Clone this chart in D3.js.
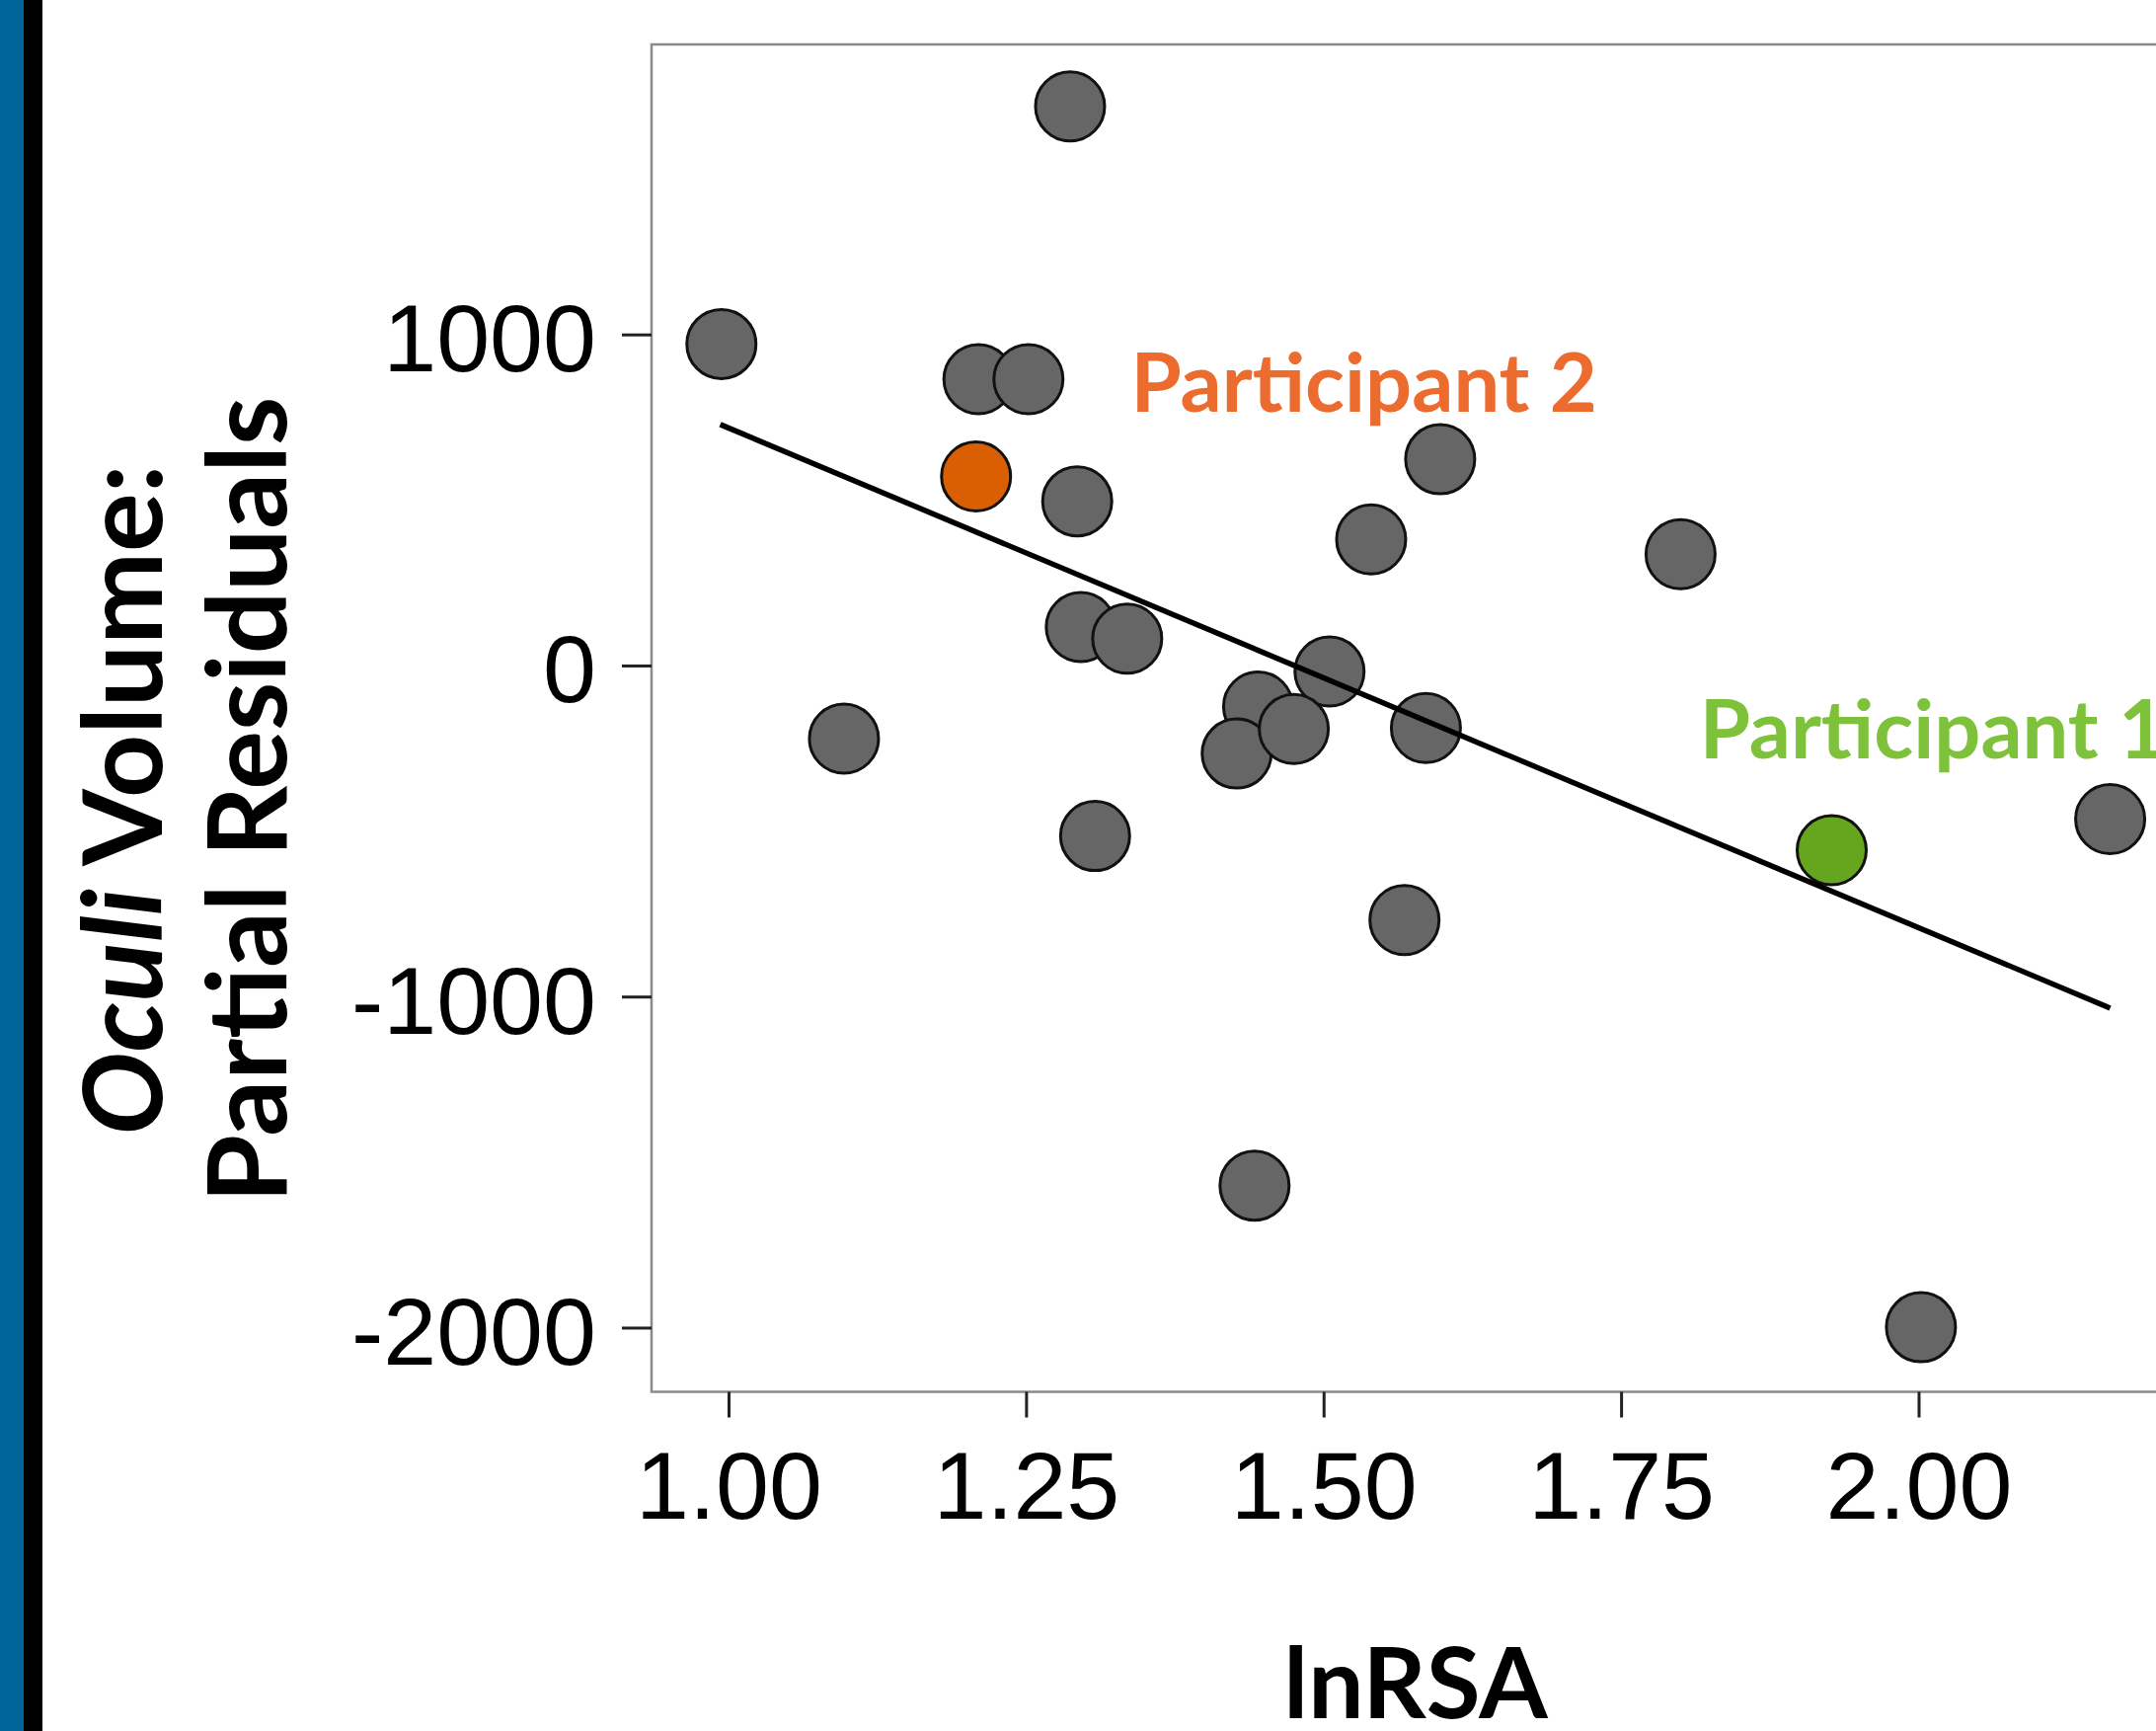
<!DOCTYPE html>
<html>
<head>
<meta charset="utf-8">
<title>Oculi Volume vs lnRSA</title>
<script src="https://cdn.jsdelivr.net/npm/d3@7"></script>
<style>
  html, body { margin: 0; padding: 0; background: #fff; }
  svg { display: block; }
</style>
</head>
<body>
<div id="chart"></div>
<script>
/* ---- Data ---- */
const lnRSA = [
  0.994, 1.287, 1.210, 1.252, 1.208, 1.293, 1.598, 1.540, 1.800, 1.296, 1.335, 1.097,
  1.505, 1.445, 1.427, 1.475, 1.586, 1.308, 1.568, 1.927, 2.161, 1.442, 2.002
];
const residuals = [
  971, 1689, 865, 865, 571, 496, 623, 381, 336, 116, 81, -221,
  -18, -124, -266, -192, -189, -515, -769, -558, -464, -1571, -1999
];
// which participant each point belongs to ('' = unlabeled)
const participant = [
  '', '', '', '', 'p2', '', '', '', '', '', '', '',
  '', '', '', '', '', '', '', 'p1', '', '', ''
];
const fitX = [0.993, 2.161];
const fitY = [728, -1035];

const xTicks = [1.00, 1.25, 1.50, 1.75, 2.00];
const yTicks = [-2000, -1000, 0, 1000];

const labels = [
  { id: 'p2', text: 'Participant 2', x: 1.338, y: 767 },
  { id: 'p1', text: 'Participant 1', x: 1.816, y: -282 }
];

(function () {
  'use strict';

  const W = 2184, H = 1753;
  const box = { left: 660, top: 45, right: 2245, bottom: 1409.5 };

  const POINT_FILL = { '': '#666666', p2: '#d95f02', p1: '#66a61e' };
  const LABEL_FILL = { p2: '#ec6b2f', p1: '#7dc23a' };
  const TITLE_FONT = 'Lato, "Open Sans", sans-serif';
  const TICK_FONT  = '"Liberation Sans", Arial, sans-serif';

  const svg = d3.select('#chart')
    .append('svg')
    .attr('width', W)
    .attr('height', H);

  /* ---- Slide edge bars ---- */
  svg.append('rect').attr('x', 0).attr('y', 0).attr('width', 24).attr('height', H).attr('fill', '#006699');
  svg.append('rect').attr('x', 24).attr('y', 0).attr('width', 19).attr('height', H).attr('fill', '#000');

  /* ---- Scales ---- */
  const x = d3.scaleLinear().domain([0.9353, 2.25]).range([box.left, box.left + (2.25 - 0.9353) * 1205.5]);
  const y = d3.scaleLinear().domain([-2194, 1876]).range([box.bottom, box.top]);

  /* ---- Plot frame ---- */
  svg.append('rect')
    .attr('x', box.left)
    .attr('y', box.top)
    .attr('width', box.right - box.left)
    .attr('height', box.bottom - box.top)
    .attr('fill', 'none')
    .attr('stroke', '#8a8a8a')
    .attr('stroke-width', 2.5);

  /* ---- Axes ---- */
  const gx = svg.append('g')
    .attr('transform', `translate(0,${box.bottom})`)
    .call(d3.axisBottom(x).tickValues(xTicks).tickFormat(d3.format('.2f')).tickSize(26).tickPadding(34));

  // plain hyphen for negatives, as in the original figure
  const gy = svg.append('g')
    .attr('transform', `translate(${box.left},0)`)
    .call(d3.axisLeft(y).tickValues(yTicks).tickFormat(d => String(d)).tickSize(30).tickPadding(26));

  [gx, gy].forEach(g => {
    g.select('.domain').remove();
    g.selectAll('.tick line').attr('stroke', '#222').attr('stroke-width', 3);
    g.selectAll('.tick text')
      .attr('fill', '#000')
      .style('font-family', TICK_FONT)
      .style('font-size', '97px');
  });
  gy.selectAll('.tick text').attr('dy', '0.38em');

  /* ---- Points ---- */
  const pts = lnRSA.map((v, i) => ({ x: v, y: residuals[i], who: participant[i] }));

  svg.append('g')
    .selectAll('circle')
    .data(pts)
    .join('circle')
      .attr('cx', d => x(d.x))
      .attr('cy', d => y(d.y))
      .attr('r', 35)
      .attr('fill', d => POINT_FILL[d.who])
      .attr('stroke', '#111')
      .attr('stroke-width', 3);

  /* ---- Fit line ---- */
  svg.append('path')
    .datum(fitX.map((v, i) => [v, fitY[i]]))
    .attr('d', d3.line().x(d => x(d[0])).y(d => y(d[1])))
    .attr('fill', 'none')
    .attr('stroke', '#000')
    .attr('stroke-width', 5.5);

  /* ---- Participant labels ---- */
  svg.append('g')
    .selectAll('text')
    .data(labels)
    .join('text')
      .attr('x', d => x(d.x))
      .attr('y', d => y(d.y))
      .text(d => d.text)
      .attr('fill', d => LABEL_FILL[d.id])
      .style('font-family', TITLE_FONT)
      .style('font-weight', '700')
      .style('font-size', '83px');

  /* ---- Axis titles ---- */
  svg.append('text')
    .attr('x', 1434)
    .attr('y', 1740)
    .attr('text-anchor', 'middle')
    .text('lnRSA')
    .style('font-family', TITLE_FONT)
    .style('font-weight', '700')
    .style('font-size', '100px');

  const yTitle = svg.append('g')
    .attr('transform', 'translate(0,810) rotate(-90)')
    .style('font-family', TITLE_FONT)
    .style('font-weight', '700')
    .style('font-size', '112px');

  const line1 = yTitle.append('text').attr('x', 0).attr('y', 164).attr('text-anchor', 'middle');
  line1.append('tspan').style('font-style', 'italic').text('Oculi');
  line1.append('tspan').text(' Volume:');

  yTitle.append('text')
    .attr('x', 0)
    .attr('y', 290)
    .attr('text-anchor', 'middle')
    .text('Partial Residuals');
})();
</script>
</body>
</html>
